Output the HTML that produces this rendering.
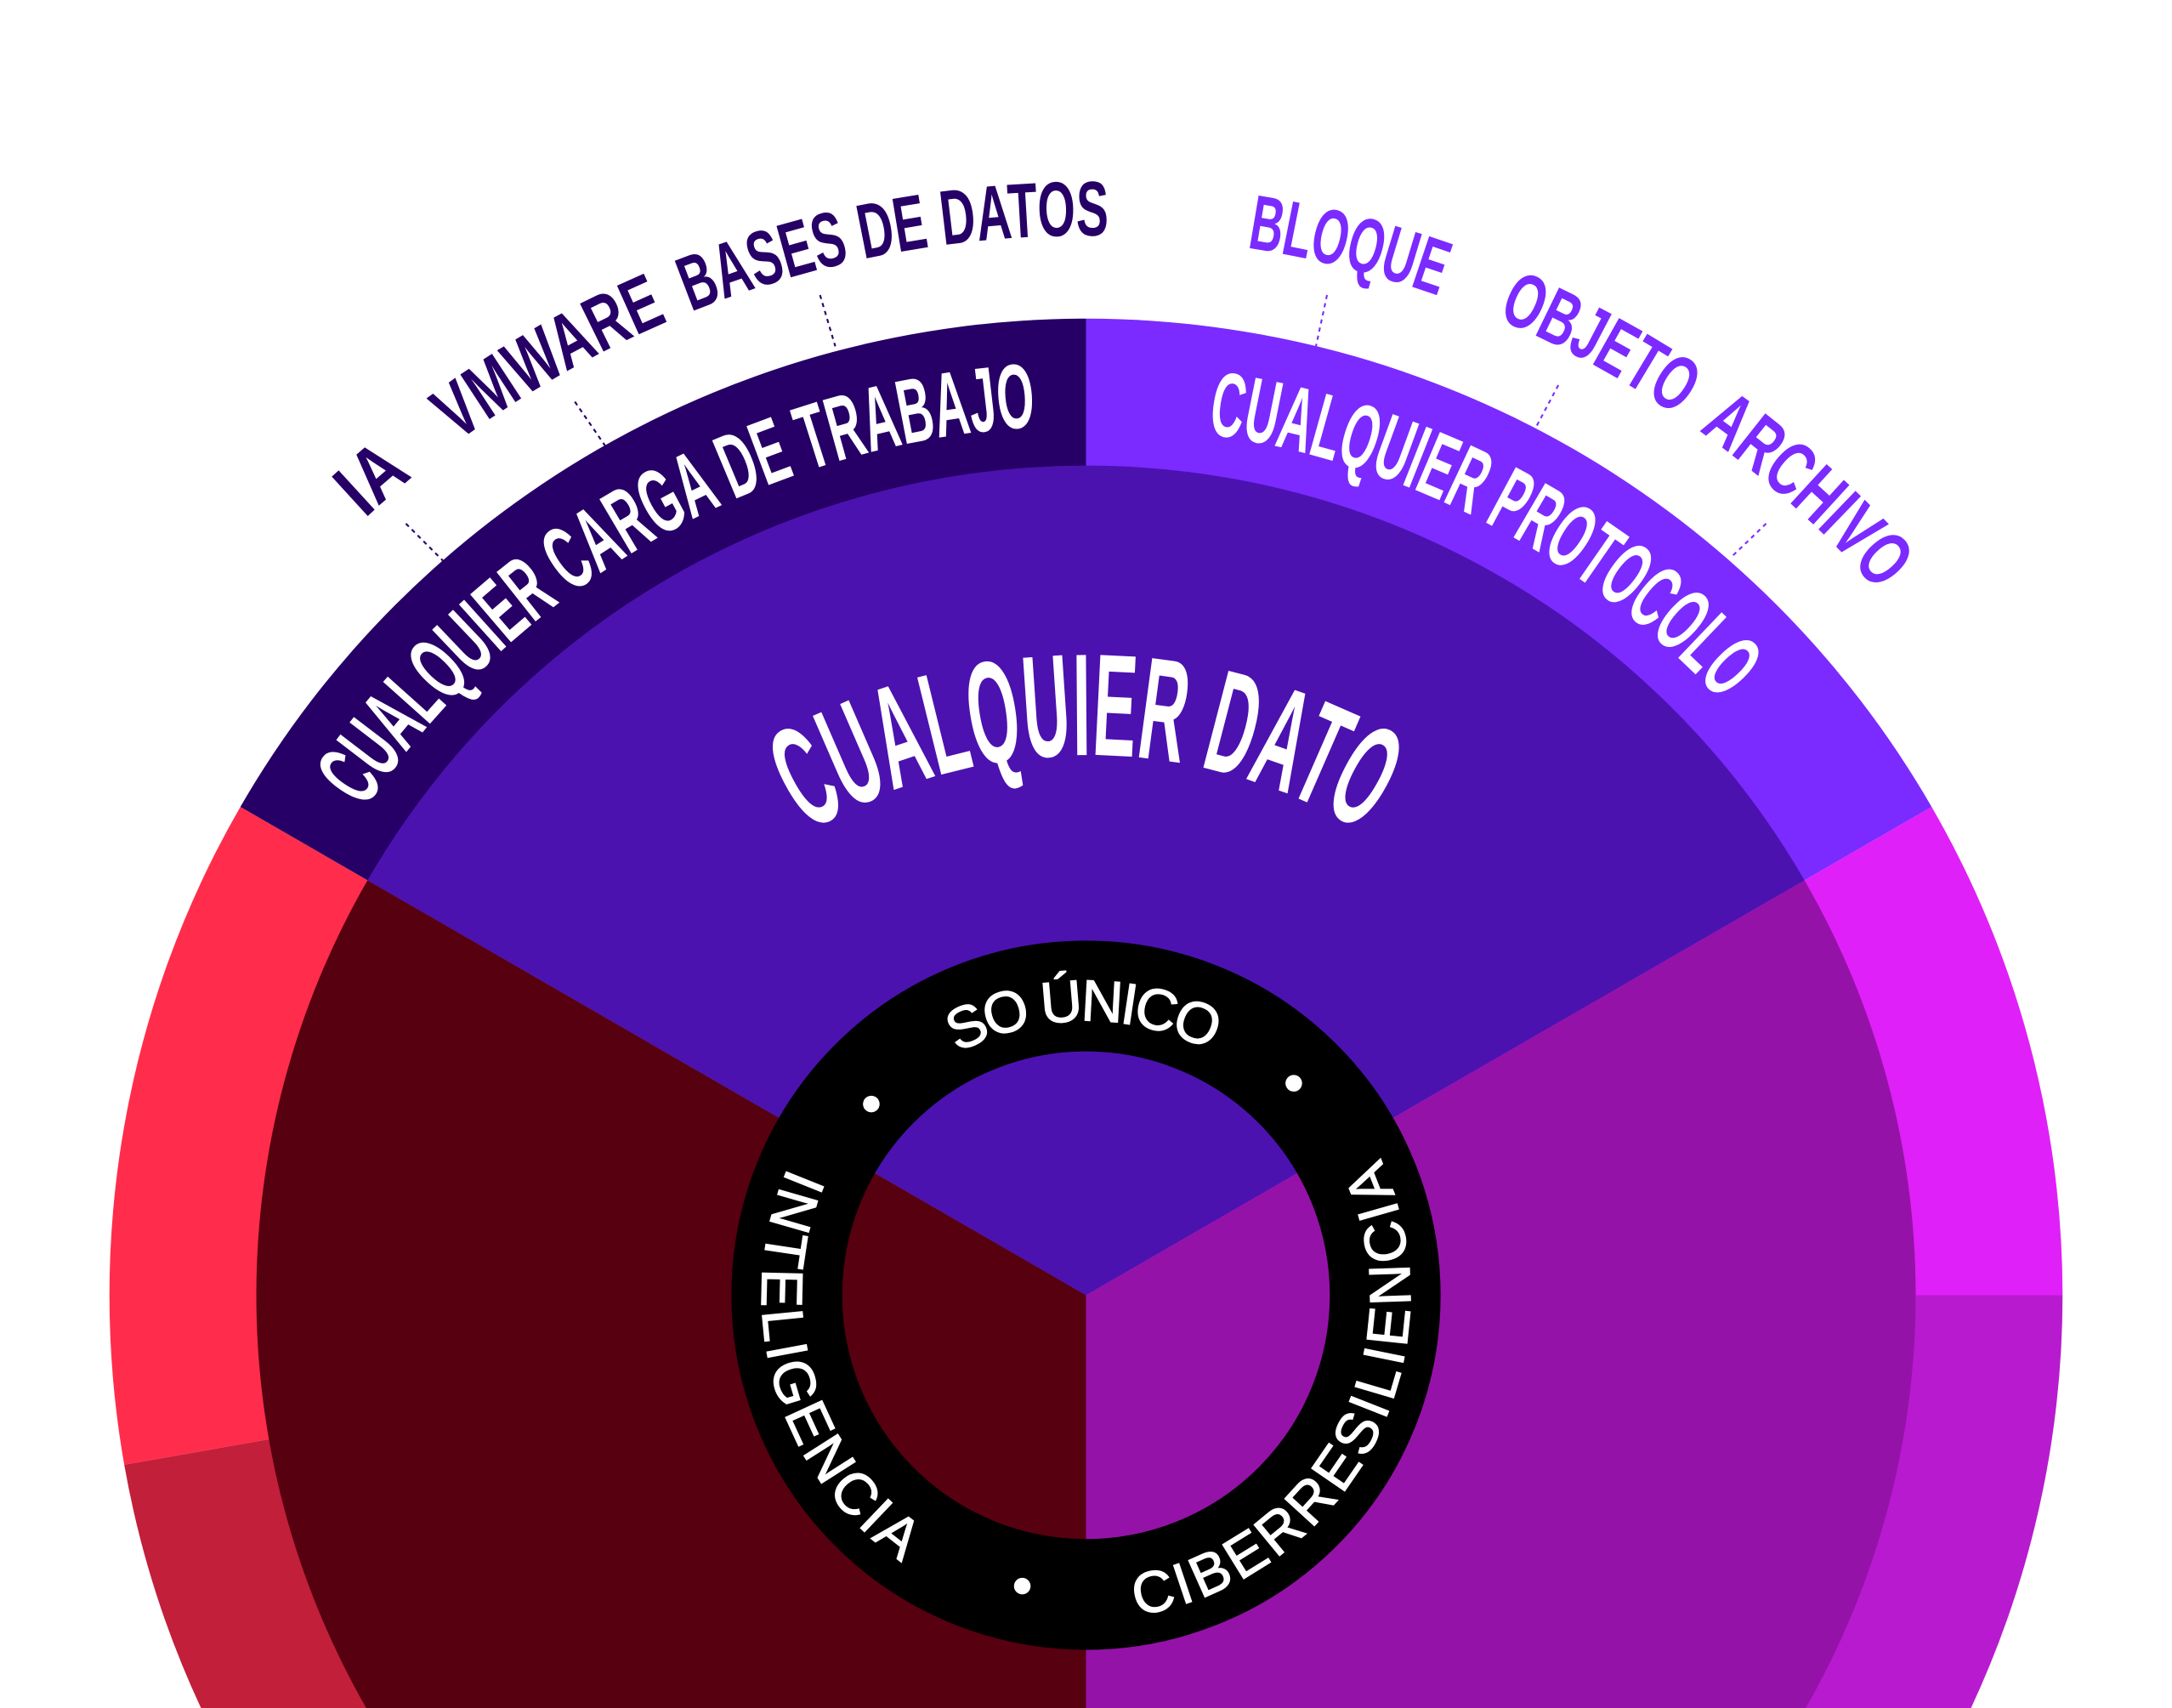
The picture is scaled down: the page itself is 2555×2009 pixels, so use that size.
<!DOCTYPE html>
<html><head><meta charset="utf-8"><style>
html,body{margin:0;padding:0;background:#fff;width:2555px;height:2009px;overflow:hidden;}
svg{display:block;overflow:hidden;}
.b{font-family:"Liberation Sans",sans-serif;font-weight:bold;}
.n{font-family:"Liberation Sans",sans-serif;}
</style></head><body>
<svg width="2555" height="2009" viewBox="0 0 1568 1233" preserveAspectRatio="none" xmlns="http://www.w3.org/2000/svg">
<defs>
<path id="pw" d="M240.1,621 A628 628 0 0 1 784,307"/>
<path id="pp" d="M784,307 A628 628 0 0 1 1327.9,621"/>
<path id="pd" d="M446.3,740 A390 390 0 0 1 1121.7,740"/>
<path id="po" d="M121.5,552.5 A765 765 0 0 1 1446.5,552.5"/>
<path id="ps" d="M612.5,836 A198 198 0 0 1 955.5,836"/>
<path id="pi" d="M581.4,818 A234 234 0 0 0 784,1169"/>
<path id="pc" d="M784,1169 A234 234 0 0 0 986.6,818"/>
</defs>
<rect width="1568" height="1233" fill="#fff"/>
<path d="M784,935 L173.5,582.5 A705,705 0 0 1 784,230 Z" fill="#260066"/>
<path d="M784,935 L784,230 A705,705 0 0 1 1394.5,582.5 Z" fill="#7b2bff"/>
<path d="M784,935 L1394.5,582.5 A705,705 0 0 1 1489,935 Z" fill="#e020f8"/>
<path d="M784,935 L1489,935 A705,705 0 0 1 1422.9,1233 L784,1233 Z" fill="#b81ad0"/>
<path d="M784,935 L784,1233 L145.1,1233 A705,705 0 0 1 89.7,1057.4 Z" fill="#c21f3a"/>
<path d="M784,935 L89.7,1057.4 A705,705 0 0 1 173.5,582.5 Z" fill="#ff2d4b"/>
<path d="M784,935 L265.3,635.5 A599,599 0 0 1 1302.7,635.5 Z" fill="#4b12b0"/>
<path d="M784,935 L1302.7,635.5 A599,599 0 0 1 1303.6,1233 L784,1233 Z" fill="#9512a8"/>
<path d="M784,935 L784,1233 L264.4,1233 A599,599 0 0 1 265.3,635.5 Z" fill="#570010"/>
<circle cx="784" cy="935" r="216" fill="none" stroke="#000" stroke-width="80"/>
<circle cx="629" cy="797" r="6" fill="#fff"/>
<circle cx="934" cy="782" r="6" fill="#fff"/>
<circle cx="738" cy="1145" r="6" fill="#fff"/>
<g stroke-width="1.3" stroke-dasharray="3 3">
<line x1="293" y1="378" x2="320" y2="405" stroke="#260066"/>
<line x1="415" y1="290" x2="437" y2="322" stroke="#260066"/>
<line x1="592" y1="213" x2="603" y2="250" stroke="#260066"/>
<line x1="958" y1="213" x2="950" y2="250" stroke="#7b2bff"/>
<line x1="1125" y1="278" x2="1108" y2="310" stroke="#7b2bff"/>
<line x1="1275" y1="378" x2="1250" y2="402" stroke="#7b2bff"/>
</g>
<text class="b" font-size="66" fill="#fff"><textPath href="#pw" startOffset="43.6" textLength="578" lengthAdjust="spacingAndGlyphs">CUALQUIER CARGA DE TRABAJO</textPath></text>
<text class="b" font-size="66" fill="#fff"><textPath href="#pp" startOffset="87.7" textLength="427" lengthAdjust="spacingAndGlyphs">CUALQUIER PROTOCOLO</textPath></text>
<text class="b" font-size="105" fill="#fff"><textPath href="#pd" startOffset="197.4" textLength="422" lengthAdjust="spacingAndGlyphs">CUALQUIER DATO</textPath></text>
<g class="b" font-size="56">
<text fill="#260066"><textPath href="#po" startOffset="228.3" textLength="46.7" lengthAdjust="spacingAndGlyphs">IA</textPath></text>
<text fill="#260066"><textPath href="#po" startOffset="315.1" textLength="176.2" lengthAdjust="spacingAndGlyphs">VMWARE</textPath></text>
<text fill="#260066"><textPath href="#po" startOffset="508.7" textLength="308.4" lengthAdjust="spacingAndGlyphs">BASES DE DATOS</textPath></text>
<text fill="#7b2bff"><textPath href="#po" startOffset="917.3" textLength="142.9" lengthAdjust="spacingAndGlyphs">BLOQUE</textPath></text>
<text fill="#7b2bff"><textPath href="#po" startOffset="1105.5" textLength="148.2" lengthAdjust="spacingAndGlyphs">OBJETO</textPath></text>
<text fill="#7b2bff"><textPath href="#po" startOffset="1272.4" textLength="174.9" lengthAdjust="spacingAndGlyphs">ARCHIVO</textPath></text>
</g>
<g class="n" font-size="42" fill="#fff" stroke="#fff" stroke-width="0.8">
<text><textPath href="#ps" startOffset="110.6" textLength="190" lengthAdjust="spacing">SO ÚNICO</textPath></text>
<text><textPath href="#pi" startOffset="27.4" textLength="321" lengthAdjust="spacing">INTELIGENCIA</textPath></text>
<text><textPath href="#pc" startOffset="36.8" textLength="432" lengthAdjust="spacing">CIBERRESILIENCIA</textPath></text>
</g>
</svg>
</body></html>
